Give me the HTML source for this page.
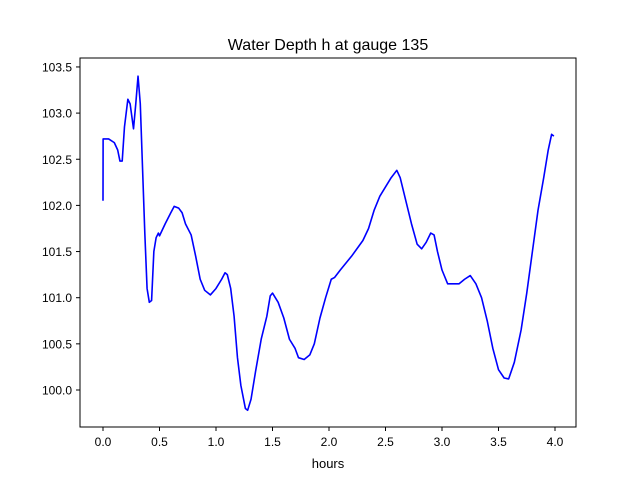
<!DOCTYPE html>
<html><head><meta charset="utf-8"><style>
html,body{margin:0;padding:0;background:#fff;}
svg{display:block;font-family:"Liberation Sans","DejaVu Sans",sans-serif;}
</style></head><body>
<svg id="chart" width="640" height="480">
<rect x="0" y="0" width="640" height="480" fill="#fff"/>
<text x="328" y="50" text-anchor="middle" font-size="16">Water Depth h at gauge 135</text>
<g id="plot"></g>
<rect x="80" y="58" width="496" height="369" fill="none" stroke="#000" stroke-width="1"/>
<text x="328" y="468" text-anchor="middle" font-size="13">hours</text>
</svg>
<script>
const xTicks=[0,0.5,1,1.5,2,2.5,3,3.5,4];
const xTickLabels=["0.0","0.5","1.0","1.5","2.0","2.5","3.0","3.5","4.0"];
const yTicks=[100,100.5,101,101.5,102,102.5,103,103.5];
const yTickLabels=["100.0","100.5","101.0","101.5","102.0","102.5","103.0","103.5"];
const hours=[0,0.001,0.05,0.1,0.13,0.15,0.17,0.19,0.22,0.24,0.27,0.29,0.31,0.33,0.35,0.37,0.39,0.41,0.43,0.45,0.47,0.49,0.5,0.55,0.6,0.63,0.67,0.7,0.73,0.78,0.82,0.86,0.9,0.95,1.0,1.05,1.08,1.1,1.13,1.16,1.19,1.22,1.26,1.28,1.31,1.35,1.4,1.45,1.48,1.5,1.55,1.6,1.65,1.7,1.73,1.78,1.83,1.87,1.92,1.97,2.02,2.05,2.1,2.2,2.3,2.35,2.4,2.45,2.5,2.55,2.6,2.63,2.68,2.73,2.78,2.82,2.86,2.9,2.93,2.96,3.0,3.05,3.1,3.15,3.2,3.25,3.3,3.35,3.4,3.45,3.5,3.55,3.59,3.64,3.7,3.75,3.8,3.85,3.9,3.94,3.97,3.99];
const depth=[102.05,102.72,102.72,102.68,102.6,102.48,102.48,102.85,103.15,103.1,102.83,103.1,103.4,103.1,102.4,101.7,101.1,100.95,100.97,101.5,101.65,101.7,101.67,101.8,101.92,101.99,101.97,101.92,101.8,101.68,101.45,101.2,101.08,101.03,101.1,101.2,101.27,101.25,101.1,100.8,100.35,100.05,99.8,99.78,99.9,100.2,100.55,100.8,101.02,101.05,100.95,100.78,100.55,100.45,100.35,100.33,100.38,100.5,100.78,101.0,101.2,101.22,101.3,101.45,101.62,101.75,101.95,102.1,102.2,102.3,102.38,102.3,102.05,101.8,101.58,101.53,101.6,101.7,101.68,101.5,101.3,101.15,101.15,101.15,101.2,101.24,101.15,101.0,100.75,100.45,100.22,100.13,100.12,100.3,100.65,101.05,101.5,101.95,102.3,102.6,102.77,102.75];
const NS='http://www.w3.org/2000/svg';
const X=v=>103+v*113;
const Y=v=>390-(v-100)*92.3;
const g=document.getElementById('plot');
function mk(t,a){const e=document.createElementNS(NS,t);for(const k in a)e.setAttribute(k,a[k]);g.appendChild(e);return e;}
xTicks.forEach((v,i)=>{
 const t=mk('line',{x1:X(v),x2:X(v),y1:427,y2:431,stroke:'#000'});
 
 
 const l=mk('text',{x:X(v),y:446,'text-anchor':'middle','font-size':12});
 
 
 l.textContent=xTickLabels[i];
});
yTicks.forEach((v,i)=>{
 const t=mk('line',{x1:76,x2:80,y1:Y(v),y2:Y(v),stroke:'#000'});
 
 
 const l=mk('text',{x:72,y:Y(v)+4.5,'text-anchor':'end','font-size':12});
 
 
 l.textContent=yTickLabels[i];
});
const p=mk('polyline',{points:hours.map((h,i)=>X(h)+','+Y(depth[i])).join(' '),fill:'none',stroke:'#0000ff','stroke-width':1.6,'stroke-linejoin':'round'});


</script>
</body></html>
